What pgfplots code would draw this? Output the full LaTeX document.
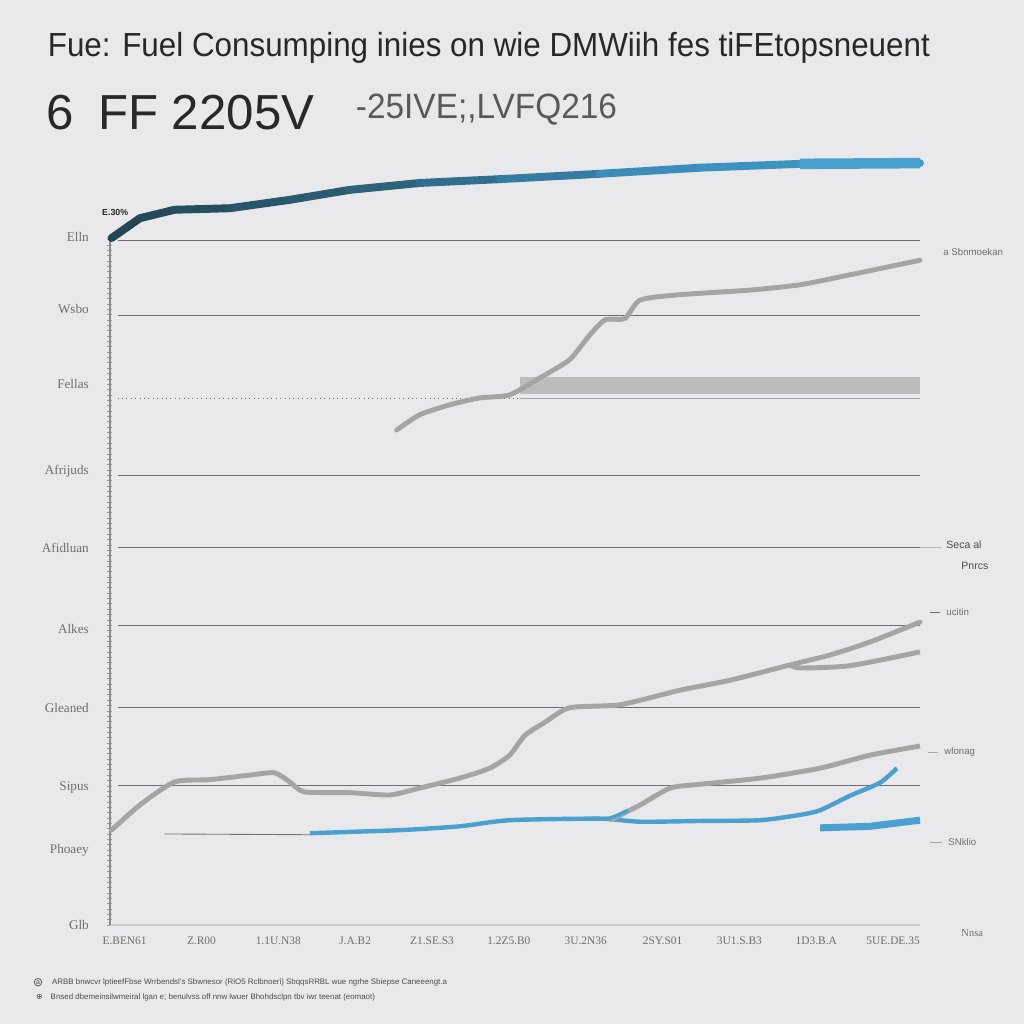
\documentclass[border=0pt]{standalone}
\usepackage{pgfplots}
\pgfplotsset{compat=1.18}
\usepackage{fontspec}
\setmainfont{Liberation Sans}
\newfontfamily\serifx{Liberation Serif}
\newfontfamily\dejavu{DejaVu Sans}
\definecolor{bg}{RGB}{233,233,235}
\definecolor{gridc}{RGB}{110,110,115}
\definecolor{grayl}{RGB}{165,165,165}
\definecolor{grayb}{RGB}{188,188,188}
\definecolor{blueA}{RGB}{74,160,207}
\definecolor{txt}{RGB}{40,40,40}
\definecolor{lab}{RGB}{110,110,110}
\begin{document}
\begin{tikzpicture}
\fill[bg] (0,0) rectangle (20.48cm,20.48cm);
\begin{axis}[
  at={(2.2cm,1.98cm)}, anchor=south west, scale only axis,
  width=16.2cm, height=13.78cm,
  xmin=-0.19, xmax=10.35, ymin=0, ymax=90.07,
  clip=false,
  axis x line*=bottom, axis y line*=left,
  x axis line style={-, draw=black!20, line width=1pt},
  y axis line style={-, draw=black!45, line width=0.6pt},
  xtick={0,...,10},
  xticklabels={E.BEN61,Z.R00,1.1U.N38,J.A.B2,Z1.SE.S3,1.2Z5.B0,3U.2N36,2SY.S01,3U1.S.B3,1D3.B.A,5UE.DE.35},
  xticklabel style={font=\serifx\fontsize{6.5}{7}\selectfont, text=lab, yshift=-0.12cm},
  ytick={0,9.7,18,28.4,38.7,49.3,59.3,70.7,80.5,90.0},
  yticklabels={Glb,Phoaey,Sipus,Gleaned,Alkes,Afidluan,Afrijuds,Fellas,Wsbo,Elln},
  yticklabel style={font=\serifx\fontsize{7.5}{9}\selectfont, text=lab, xshift=-0.3cm},
  major tick length=0pt,
  minor ytick={0,0.7,...,90.0},
  minor tick length=0.1cm,
  minor tick style={black!40, line width=0.3pt},
  tick align=center,
  colormap={bluegrad}{rgb255=(35,68,84) rgb255=(44,98,122) rgb255=(60,140,185) rgb255=(66,155,205)},
]
% grid lines
\draw[gridc, line width=0.5pt] (axis cs:-0.09,89.5) -- (axis cs:10.35,89.5);
\draw[gridc, line width=0.5pt] (axis cs:-0.09,79.7) -- (axis cs:10.35,79.7);
\draw[gridc, line width=0.5pt, dotted] (axis cs:-0.09,68.9) -- (axis cs:5.14,68.9);
\draw[gridc!60, line width=0.5pt] (axis cs:5.14,68.9) -- (axis cs:10.35,68.9);
\draw[gridc, line width=0.5pt] (axis cs:-0.09,58.8) -- (axis cs:10.35,58.8);
\draw[gridc, line width=0.5pt] (axis cs:-0.09,49.3) -- (axis cs:10.35,49.3);
\draw[gridc!50, line width=0.5pt] (axis cs:10.35,49.3) -- (axis cs:10.62,49.3);
\draw[gridc, line width=0.5pt] (axis cs:-0.09,39.1) -- (axis cs:10.35,39.1);
\draw[gridc, line width=0.5pt] (axis cs:-0.09,28.5) -- (axis cs:10.35,28.5);
\draw[gridc, line width=0.5pt] (axis cs:-0.09,18.3) -- (axis cs:10.35,18.3);

% thick grey bar
\addplot[grayb, line width=10pt, line cap=butt] coordinates {(5.14,70.5) (10.35,70.5)};
% upper grey line
\addplot[grayl, line width=2.8pt, line join=round, line cap=round, smooth, tension=0.4] coordinates {
(3.54,64.7) (3.84,66.7) (4.23,68.0) (4.62,68.9) (5.01,69.3) (5.40,71.5) (5.79,73.9) (6.05,77.1) (6.25,79.1) (6.51,79.3) (6.71,81.7) (7.23,82.4) (8.14,83.0) (8.79,83.7) (9.44,85.0) (10.35,86.9)};
% top gradient line
\addplot[mesh, point meta=x, line width=4.5pt, line cap=round, line join=round] coordinates {
(-0.17,89.8) (0.20,92.4) (0.65,93.5) (1.37,93.7) (2.15,94.8) (2.93,96.1) (3.84,97.0) (4.88,97.5) (6.18,98.2) (7.49,99.0) (8.79,99.5) (10.35,99.6)};
\addplot[blueA, line width=6pt] coordinates {(8.79,99.5) (10.35,99.6)};

% thin grey line
\addplot[black!55, line width=0.5pt] coordinates {(0.52,11.9) (2.41,11.8)};
% blue long line
\addplot[blueA, line width=2.5pt, line join=round, smooth, tension=0.4] coordinates {
(2.41,12.0) (3.58,12.4) (4.36,12.9) (5.01,13.7) (6.18,13.9) (6.71,13.5) (7.49,13.6) (8.27,13.7) (8.79,14.4) (9.05,15.0) (9.44,16.9) (9.83,18.6) (10.05,20.5)};
% blue short thick
\addplot[blueA, line width=4pt] coordinates {(9.05,12.7) (9.70,12.9) (10.35,13.7)};
% lower grey main line
\addplot[grayl, line width=2.8pt, line join=round, line cap=round, smooth, tension=0.4] coordinates {
(-0.17,12.4) (0.20,15.7) (0.65,18.7) (1.11,19.0) (1.63,19.6) (1.95,19.9) (2.15,18.7) (2.34,17.4) (2.93,17.3) (3.45,17.0) (3.84,17.9) (4.36,19.2) (4.75,20.5) (5.01,22.2) (5.21,24.8) (5.47,26.5) (5.79,28.4) (6.45,28.8) (7.23,30.7) (7.88,32.0) (8.66,34.0) (9.18,35.3) (9.70,37.0) (10.35,39.6)};
% branch
\addplot[grayl, line width=2.8pt, line join=round, smooth, tension=0.4] coordinates {
(8.66,34.0) (8.79,33.6) (9.44,33.9) (10.35,35.7)};
% mid grey line
\addplot[grayl, line width=2.8pt, line join=round, smooth, tension=0.4] coordinates {
(6.32,13.7) (6.71,15.7) (7.10,17.9) (7.49,18.4) (8.27,19.2) (9.05,20.5) (9.70,22.2) (10.35,23.4)};
\addplot[blueA, line width=2pt, smooth] coordinates {(6.10,13.9) (6.32,14.0) (6.55,15.0)};
\end{axis}

\begin{scope}[x=0.02cm, y=-0.02cm, shift={(0,20.48cm)}]
\node[anchor=west, text=txt, font=\fontsize{19}{22}\selectfont, xscale=0.94] at (42,48) {Fue: Fuel Consumping inies on wie DMWiih fes tiFEtopsneuent};
\node[anchor=west, text=txt, font=\fontsize{28}{32}\selectfont] at (40,113) {6\enspace FF 2205V};
\node[anchor=west, text=black!65, font=\fontsize{20}{24}\selectfont, xscale=0.95] at (350,110) {-25IVE;,LVFQ216};
\node[anchor=west, text=txt, font=\bfseries\fontsize{5}{6}\selectfont] at (96,212) {E.30\%};
\node[anchor=west, text=lab, font=\fontsize{5.5}{6}\selectfont] at (937,252) {a Sbnmoekan};
\node[anchor=west, text=black!70, font=\fontsize{6}{7}\selectfont] at (940,545) {Seca al};
\node[anchor=west, text=black!70, font=\fontsize{6}{7}\selectfont] at (955,566) {Pnrcs};
\draw[lab] (930,612) -- (940,612);
\node[anchor=west, text=lab, font=\fontsize{5.5}{6}\selectfont] at (940,612) {ucitin};
\draw[lab!60] (928,752) -- (938,752);
\node[anchor=west, text=lab, font=\fontsize{5.5}{6}\selectfont] at (938,752) {wlonag};
\draw[lab!60] (930,842) -- (942,842);
\node[anchor=west, text=lab, font=\fontsize{5.5}{6}\selectfont] at (942,842) {SNklio};
\node[anchor=west, text=lab, font=\serifx\fontsize{6}{7}\selectfont] at (955,933) {Nnsa};
\node[draw=black!70, circle, inner sep=0.4pt, text=black!70, font=\fontsize{4}{4}\selectfont] at (38,982) {a};
\node[anchor=west, text=black!70, font=\fontsize{4.5}{5}\selectfont] at (46,982) {ARBB bnwcvr lptieefFbse Wrrbendsl's Sbwnesor (RiO5 Rclbnoeri) SbqqsRRBL wue ngrhe Sbiepse Caneeengt.a};
\node[anchor=west, text=black!70, font=\fontsize{4.5}{5}\selectfont] at (30,997) {{\dejavu ⊕}\quad Bnsed dbemeinsilwmeiral lgan e; benulvss off nnw lwuer Bhohdsclpn tbv iwr teenat (eomaot)};
\end{scope}
\end{tikzpicture}
\end{document}
